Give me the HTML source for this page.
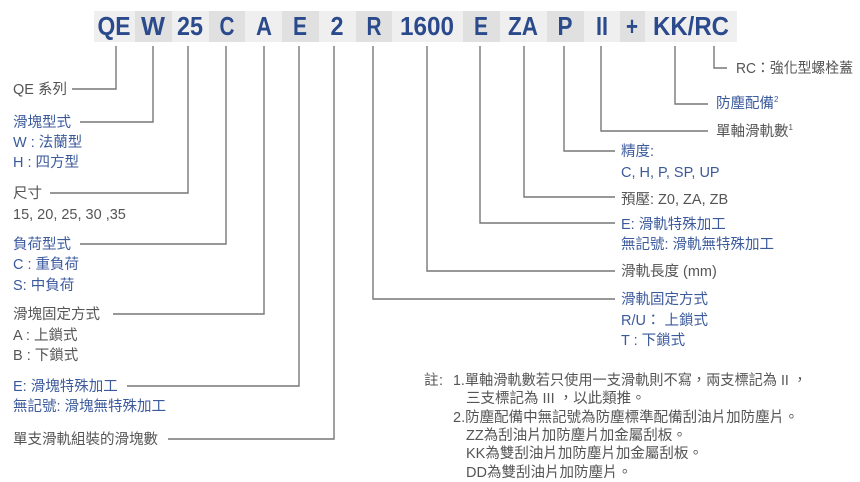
<!DOCTYPE html>
<html><head><meta charset="utf-8"><style>
html,body{margin:0;padding:0;background:#fff;}
svg{display:block;}
text{font-family:"Liberation Sans","Noto Sans CJK TC",sans-serif;font-size:14.5px;}
.b{fill:#3b5a9c;}
.g{fill:#555;}
.h{font-size:26px;font-weight:bold;fill:#2b4a8c;text-anchor:middle;}
</style></head><body>
<svg width="860" height="482" viewBox="0 0 860 482" xmlns="http://www.w3.org/2000/svg">
<g>
<rect x="94" y="11" width="41" height="31" fill="#efefef"/>
<rect x="135" y="11" width="37" height="31" fill="#e0e0e0"/>
<rect x="172" y="11" width="37" height="31" fill="#efefef"/>
<rect x="209" y="11" width="36" height="31" fill="#e0e0e0"/>
<rect x="245" y="11" width="37" height="31" fill="#efefef"/>
<rect x="282" y="11" width="37" height="31" fill="#e0e0e0"/>
<rect x="319" y="11" width="37" height="31" fill="#efefef"/>
<rect x="356" y="11" width="36" height="31" fill="#e0e0e0"/>
<rect x="392" y="11" width="71" height="31" fill="#efefef"/>
<rect x="463" y="11" width="37" height="31" fill="#e0e0e0"/>
<rect x="500" y="11" width="47" height="31" fill="#efefef"/>
<rect x="547" y="11" width="37" height="31" fill="#e0e0e0"/>
<rect x="584" y="11" width="36" height="31" fill="#efefef"/>
<rect x="620" y="11" width="25" height="31" fill="#e0e0e0"/>
<rect x="645" y="11" width="92" height="31" fill="#efefef"/>
</g>
<g>
<text class="h" x="114" y="35" textLength="33" lengthAdjust="spacingAndGlyphs">QE</text>
<text class="h" x="153" y="35" textLength="24" lengthAdjust="spacingAndGlyphs">W</text>
<text class="h" x="190" y="35" textLength="26" lengthAdjust="spacingAndGlyphs">25</text>
<text class="h" x="227" y="35" textLength="15" lengthAdjust="spacingAndGlyphs">C</text>
<text class="h" x="264" y="35" textLength="16" lengthAdjust="spacingAndGlyphs">A</text>
<text class="h" x="300" y="35" textLength="14" lengthAdjust="spacingAndGlyphs">E</text>
<text class="h" x="337" y="35" textLength="13" lengthAdjust="spacingAndGlyphs">2</text>
<text class="h" x="374" y="35" textLength="15" lengthAdjust="spacingAndGlyphs">R</text>
<text class="h" x="427" y="35" textLength="54" lengthAdjust="spacingAndGlyphs">1600</text>
<text class="h" x="481" y="35" textLength="14" lengthAdjust="spacingAndGlyphs">E</text>
<text class="h" x="523" y="35" textLength="30" lengthAdjust="spacingAndGlyphs">ZA</text>
<text class="h" x="565" y="35" textLength="15" lengthAdjust="spacingAndGlyphs">P</text>
<text class="h" x="602" y="35" textLength="12" lengthAdjust="spacingAndGlyphs">II</text>
<text class="h" x="632" y="35" textLength="12" lengthAdjust="spacingAndGlyphs">+</text>
<text class="h" x="691" y="35" textLength="76" lengthAdjust="spacingAndGlyphs">KK/RC</text>
</g>
<g fill="none" stroke="#777" stroke-width="1.4">
<polyline points="116,46 116,89 72,89"/>
<polyline points="153,46 153,122 80,122"/>
<polyline points="188,46 188,193 50,193"/>
<polyline points="226,46 226,244 80,244"/>
<polyline points="264,46 264,314 113,314"/>
<polyline points="299,46 299,386 127,386"/>
<polyline points="334,46 334,439 168,439"/>
<polyline points="373,46 373,299 615,299"/>
<polyline points="427,46 427,271 615,271"/>
<polyline points="480,46 480,223 615,223"/>
<polyline points="524,46 524,197 615,197"/>
<polyline points="564,46 564,151 615,151"/>
<polyline points="601,46 601,131 708,131"/>
<polyline points="675,46 675,104 708,104"/>
<polyline points="714,46 714,68 727,68"/>
</g>
<g>
<text class="g" x="13" y="94">QE 系列</text>
<text class="b" x="13" y="127">滑塊型式</text>
<text class="b" x="13" y="147">W : 法蘭型</text>
<text class="b" x="13" y="167">H : 四方型</text>
<text class="g" x="13" y="198">尺寸</text>
<text class="g" x="13" y="219">15, 20, 25, 30 ,35</text>
<text class="b" x="13" y="249">負荷型式</text>
<text class="b" x="13" y="269">C : 重負荷</text>
<text class="b" x="13" y="290">S: 中負荷</text>
<text class="g" x="13" y="319">滑塊固定方式</text>
<text class="g" x="13" y="340">A : 上鎖式</text>
<text class="g" x="13" y="360">B : 下鎖式</text>
<text class="b" x="13" y="391">E: 滑塊特殊加工</text>
<text class="b" x="13" y="411">無記號: 滑塊無特殊加工</text>
<text class="g" x="13" y="444">單支滑軌組裝的滑塊數</text>

<text class="g" x="736" y="73" textLength="117" lengthAdjust="spacingAndGlyphs">RC：強化型螺栓蓋</text>
<text class="b" x="716" y="108">防塵配備<tspan font-size="8" dy="-6">2</tspan></text>
<text class="g" x="716" y="136">單軸滑軌數<tspan font-size="8" dy="-6">1</tspan></text>
<text class="b" x="621" y="156">精度:</text>
<text class="b" x="621" y="177">C, H, P, SP, UP</text>
<text class="g" x="621" y="204">預壓: Z0, ZA, ZB</text>
<text class="b" x="621" y="229">E: 滑軌特殊加工</text>
<text class="b" x="621" y="249">無記號: 滑軌無特殊加工</text>
<text class="g" x="621" y="276">滑軌長度 (mm)</text>
<text class="b" x="621" y="304">滑軌固定方式</text>
<text class="b" x="621" y="325">R/U： 上鎖式</text>
<text class="b" x="621" y="345">T : 下鎖式</text>

<text class="g" x="424" y="385">註</text>
<text class="g" x="439" y="385">:</text>
<text class="g" x="453" y="385" textLength="354" lengthAdjust="spacingAndGlyphs">1.單軸滑軌數若只使用一支滑軌則不寫，兩支標記為 II ，</text>
<text class="g" x="466" y="403">三支標記為 III ，以此類推。</text>
<text class="g" x="453" y="422">2.防塵配備中無記號為防塵標準配備刮油片加防塵片。</text>
<text class="g" x="466" y="440">ZZ為刮油片加防塵片加金屬刮板。</text>
<text class="g" x="466" y="458">KK為雙刮油片加防塵片加金屬刮板。</text>
<text class="g" x="466" y="477">DD為雙刮油片加防塵片。</text>
</g>
</svg>
</body></html>
